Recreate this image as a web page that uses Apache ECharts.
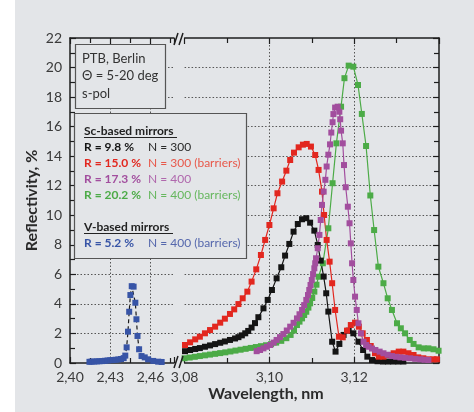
<!DOCTYPE html>
<html><head><meta charset="utf-8">
<script src="https://cdn.jsdelivr.net/npm/echarts@6/dist/echarts.min.js"></script>
<style>html,body{margin:0;padding:0;background:#e3e5e8;} #c{width:474px;height:412px;}</style>
</head><body><div id="c"></div>
<script>
// ---- data (wavelength in nm, reflectivity in %) ----
const blueWl = [2.4145,2.4160,2.4180,2.4200,2.4220,2.4240,2.4260,2.4280,2.4300,2.4320,2.4340,2.4360,2.4380,2.4400,2.4412,2.4422,2.4432,2.4441,2.4450,2.4460,2.4474,2.4487,2.4495,2.4503,2.4515,2.4533,2.4557,2.4582,2.4620,2.4657,2.4683];
const blueR  = [0.08,0.09,0.10,0.11,0.12,0.13,0.15,0.17,0.19,0.20,0.22,0.24,0.27,0.33,0.50,1.06,2.12,3.47,4.60,5.20,5.17,4.08,2.96,1.83,0.93,0.47,0.38,0.25,0.14,0.09,0.07];

const blackWl = [3.0801,3.0813,3.0825,3.0836,3.0848,3.0860,3.0872,3.0884,3.0895,3.0907,3.0919,3.0927,3.0935,3.0943,3.0950,3.0958,3.0966,3.0974,3.0986,3.0996,3.1006,3.1017,3.1028,3.1037,3.1047,3.1057,3.1067,3.1077,3.1087,3.1096,3.1106,3.1114,3.1121,3.1128,3.1134,3.1139,3.1148,3.1156,3.1165,3.1175,3.1187,3.1198,3.1210,3.1221,3.1231,3.1242,3.1255,3.1268,3.1280,3.1292,3.1304,3.1316];
const blackR  = [0.80,0.88,0.95,1.01,1.10,1.19,1.28,1.37,1.46,1.56,1.66,1.75,1.87,2.01,2.17,2.40,2.70,3.10,3.70,4.27,4.94,5.73,6.48,7.27,8.06,8.89,9.41,9.73,9.80,9.50,8.96,7.99,6.93,5.85,4.72,3.48,1.44,0.77,1.29,1.90,2.19,2.01,1.44,0.88,0.43,0.20,0.12,0.10,0.10,0.10,0.10,0.10];

const redWl = [3.0801,3.0813,3.0825,3.0836,3.0848,3.0860,3.0872,3.0884,3.0895,3.0907,3.0917,3.0927,3.0937,3.0948,3.0958,3.0969,3.0980,3.0990,3.1000,3.1010,3.1019,3.1030,3.1040,3.1049,3.1058,3.1069,3.1079,3.1088,3.1098,3.1108,3.1116,3.1124,3.1129,3.1135,3.1142,3.1148,3.1155,3.1164,3.1173,3.1183,3.1192,3.1202,3.1211,3.1220,3.1230,3.1239,3.1249,3.1258,3.1269,3.1281,3.1293,3.1305,3.1316,3.1328,3.1340,3.1351,3.1363,3.1375,3.1387,3.1395];
const redR  = [1.22,1.40,1.60,1.78,2.01,2.23,2.46,2.73,3.00,3.32,3.63,3.99,4.38,4.83,5.51,6.34,7.31,8.33,9.34,10.47,11.49,12.28,13.02,13.74,14.24,14.60,14.78,14.83,14.65,14.08,13.07,11.60,10.02,8.33,6.86,5.40,3.59,1.78,1.74,2.19,2.57,2.73,2.46,2.01,1.56,1.15,0.66,0.43,0.43,0.54,0.66,0.77,0.77,0.66,0.54,0.38,0.32,0.25,0.25,0.25];

const purpleWl = [3.0970,3.0978,3.0986,3.0994,3.1002,3.1010,3.1017,3.1025,3.1033,3.1041,3.1049,3.1057,3.1065,3.1071,3.1077,3.1082,3.1087,3.1091,3.1094,3.1097,3.1100,3.1103,3.1106,3.1108,3.1110,3.1114,3.1118,3.1121,3.1124,3.1128,3.1132,3.1135,3.1139,3.1143,3.1146,3.1149,3.1151,3.1155,3.1161,3.1165,3.1167,3.1169,3.1173,3.1176,3.1180,3.1185,3.1189,3.1192,3.1195,3.1198,3.1202,3.1206,3.1210,3.1216,3.1222,3.1228,3.1234,3.1242,3.1250,3.1260,3.1269,3.1279,3.1289,3.1299,3.1309,3.1320,3.1332,3.1344,3.1356,3.1366,3.1375];
const purpleR  = [0.80,0.88,0.99,1.10,1.22,1.38,1.56,1.75,1.96,2.20,2.46,2.72,3.02,3.30,3.59,3.92,4.27,4.60,4.94,5.28,5.62,6.02,6.41,6.75,7.09,7.77,8.67,9.68,10.70,11.60,12.40,13.30,14.10,14.80,15.60,16.30,16.85,17.29,17.35,17.01,16.50,15.73,14.87,13.40,11.90,10.58,9.46,8.10,6.75,5.62,4.49,3.59,2.69,2.01,1.44,1.22,1.10,0.98,0.88,0.77,0.66,0.56,0.47,0.42,0.38,0.35,0.32,0.28,0.25,0.22,0.20];

const greenWl = [3.0800,3.0812,3.0824,3.0836,3.0848,3.0860,3.0872,3.0884,3.0896,3.0908,3.0920,3.0932,3.0944,3.0956,3.0968,3.0980,3.0992,3.1004,3.1016,3.1028,3.1040,3.1050,3.1058,3.1065,3.1071,3.1077,3.1082,3.1087,3.1092,3.1096,3.1101,3.1106,3.1111,3.1116,3.1126,3.1139,3.1149,3.1158,3.1169,3.1177,3.1187,3.1198,3.1209,3.1218,3.1228,3.1238,3.1247,3.1257,3.1269,3.1279,3.1289,3.1301,3.1310,3.1320,3.1331,3.1340,3.1352,3.1364,3.1375,3.1387,3.1399];
const greenR  = [0.32,0.37,0.42,0.47,0.52,0.57,0.62,0.67,0.72,0.78,0.84,0.90,0.96,1.02,1.08,1.14,1.20,1.28,1.38,1.50,1.68,1.90,2.20,2.57,2.80,3.02,3.25,3.47,3.75,4.04,4.40,4.83,5.30,5.84,6.75,9.12,12.17,14.87,17.35,19.28,20.13,20.06,18.82,16.86,14.69,11.34,9.00,6.52,5.40,4.38,3.59,2.69,2.35,2.01,1.56,1.29,1.06,0.99,0.99,0.93,0.83];

const leftTicks = {min: 2.40, max: 2.4775, step: 0.03};
const rightTicks = {min: 3.08, max: 3.14, step: 0.02};
const yTicks = {min: 0, max: 22, step: 2};

const infoLines = ['PTB, Berlin', '\u0398 = 5-20 deg', 's-pol'];
const scHeader = 'Sc-based mirrors';
const scR = ['R = 9.8 %', 'R = 15.0 %', 'R = 17.3 %', 'R = 20.2 %'];
const scN = ['N = 300', 'N = 300 (barriers)', 'N = 400', 'N = 400 (barriers)'];
const vHeader = 'V-based mirrors';
const vR = ['R = 5.2 %'];
const vN = ['N = 400 (barriers)'];
const xTitle = 'Wavelength, nm';
const yTitle = 'Reflectivity, %';

// ---- styles ----
const FONT = "Lato, 'Open Sans', sans-serif";
const BG = '#e3e5e8';
const AX = '#1e1e1e';
const C = {black:'#141414', red:'#e2271f', purple:'#a24e9e', green:'#4cab47', blue:'#3754a6'};
const CN = {black:'#2a2a2a', red:'#e8584a', purple:'#b068ad', green:'#66b75e', blue:'#5668ad'};

function zip(a, b){ return a.map((v,i)=>[v, b[i]]); }
function fmt(step){ return v => { const k = Math.round(v/step); return Math.abs(v-k*step) < 1e-6 ? v.toFixed(2).replace('.', ',') : ''; }; }

function xAx(grid, t, pos){
  const bottom = pos === 'bottom';
  return {
    type:'value', gridIndex:grid, position:pos, min:t.min, max:t.max, interval:t.step,
    axisLine:{show:true, onZero:false, lineStyle:{color:AX, width:1.5}},
    axisTick:{show:true, inside:true, length:6, lineStyle:{color:AX, width:1.2}},
    minorTick:{show:true, splitNumber:2, length:5, lineStyle:{color:AX, width:1.2}},
    axisLabel:{show:bottom, formatter:fmt(t.step), color:'#3a3a3a', fontSize:14, fontFamily:FONT, margin:7, showMaxLabel:false},
    splitLine:{show:bottom, showMinLine:false, showMaxLine:false, lineStyle:{type:[1.5,2], color:'#555', width:1}}
  };
}
function yAx(grid, pos){
  const left = pos === 'left';
  return {
    type:'value', gridIndex:grid, position:pos, min:yTicks.min, max:yTicks.max, interval:yTicks.step,
    axisLine:{show:true, onZero:false, lineStyle:{color:AX, width:1.5}},
    axisTick:{show:true, inside:true, length:6, lineStyle:{color:AX, width:1.2}},
    minorTick:{show:true, splitNumber:2, length:5, lineStyle:{color:AX, width:1.2}},
    axisLabel:{show:left, color:'#3a3a3a', fontSize:14, fontFamily:FONT, margin:8},
    splitLine:{show:true, showMinLine:false, showMaxLine:false, lineStyle:{type:[1.5,2], color:'#555', width:1}},
    name: left ? yTitle : '', nameLocation:'middle', nameGap:30,
    nameTextStyle:{fontSize:16, fontWeight:'bold', color:'#2a2a2a', fontFamily:FONT}
  };
}
function ser(name, wl, r, color, grid, dashed){
  return {
    name, type:'line', xAxisIndex:grid, yAxisIndex:grid, data:zip(wl, r),
    symbol:'rect', symbolSize:6, showAllSymbol:true,
    itemStyle:{color:color},
    lineStyle:{color: dashed ? '#1a1a1a' : color, width:1.2, type: dashed ? [4,3] : 'solid'},
    animation:false, z:2
  };
}

const graphic = [];
// white page margin at the left edge
graphic.push({type:'rect', shape:{x:0, y:0, width:15, height:412}, style:{fill:'#ffffff'}, z:-10, silent:true});
// axis break marks
const slash = (x1,y1,x2,y2) => ({type:'line', shape:{x1,y1,x2,y2}, style:{stroke:AX, lineWidth:1.5}, z:100});
graphic.push(slash(174,45,178,33), slash(179,45,183,33));
graphic.push(slash(174,368,178,356), slash(179,368,183,356));

// info box
graphic.push({type:'rect', shape:{x:75.5, y:44.5, width:90, height:64}, style:{fill:BG, stroke:'#555', lineWidth:1.2}, z:50});
infoLines.forEach((t,i)=>graphic.push({type:'text', x:82, y:58.5 + i*17.5, style:{text:t, fill:'#333', font:`13px ${FONT}`, textVerticalAlign:'middle'}, z:51}));

// legend box
graphic.push({type:'rect', shape:{x:74.5, y:113.5, width:172, height:145}, style:{fill:BG, stroke:'#555', lineWidth:1.2}, z:50});
const colKeys = ['black','red','purple','green'];
graphic.push({type:'text', x:84, y:131, style:{text:scHeader, fill:'#222', font:`bold 12px ${FONT}`, textVerticalAlign:'middle'}, z:51});
graphic.push({type:'line', shape:{x1:84, y1:137.5, x2:177, y2:137.5}, style:{stroke:'#222', lineWidth:1}, z:51});
scR.forEach((t,i)=>{
  const y = 147 + i*16.2;
  graphic.push({type:'text', x:84, y, style:{text:t, fill:C[colKeys[i]], font:`bold 12px ${FONT}`, textVerticalAlign:'middle'}, z:51});
  graphic.push({type:'text', x:148, y, style:{text:scN[i], fill:CN[colKeys[i]], font:`12px ${FONT}`, textVerticalAlign:'middle'}, z:51});
});
graphic.push({type:'text', x:84, y:227, style:{text:vHeader, fill:'#222', font:`bold 12px ${FONT}`, textVerticalAlign:'middle'}, z:51});
graphic.push({type:'line', shape:{x1:84, y1:233.5, x2:173, y2:233.5}, style:{stroke:'#222', lineWidth:1}, z:51});
vR.forEach((t,i)=>{
  const y = 243.5 + i*16.2;
  graphic.push({type:'text', x:84, y, style:{text:t, fill:C.blue, font:`bold 12px ${FONT}`, textVerticalAlign:'middle'}, z:51});
  graphic.push({type:'text', x:148, y, style:{text:vN[i], fill:CN.blue, font:`12px ${FONT}`, textVerticalAlign:'middle'}, z:51});
});
// x title
graphic.push({type:'text', x:266, y:394, style:{text:xTitle, fill:'#2a2a2a', font:`bold 16px ${FONT}`, textAlign:'center', textVerticalAlign:'middle'}, z:51});

const option = {
  backgroundColor: BG,
  animation:false,
  textStyle:{fontFamily:FONT},
  grid:[
    {left:70, top:38, width:104, height:325},
    {left:184.6, top:38, width:254.4, height:325}
  ],
  xAxis:[ xAx(0,leftTicks,'bottom'), xAx(1,rightTicks,'bottom'), xAx(0,leftTicks,'top'), xAx(1,rightTicks,'top') ],
  yAxis:[ yAx(0,'left'), yAx(1,'right') ],
  series:[
    ser('V R=5.2%', blueWl, blueR, C.blue, 0, true),
    ser('Sc R=20.2%', greenWl, greenR, C.green, 1, false),
    ser('Sc R=9.8%', blackWl, blackR, C.black, 1, false),
    ser('Sc R=15.0%', redWl, redR, C.red, 1, false),
    ser('Sc R=17.3%', purpleWl, purpleR, C.purple, 1, false)
  ],
  graphic: graphic
};
const chart = echarts.init(document.getElementById('c'));
chart.setOption(option);
</script>
</body></html>
